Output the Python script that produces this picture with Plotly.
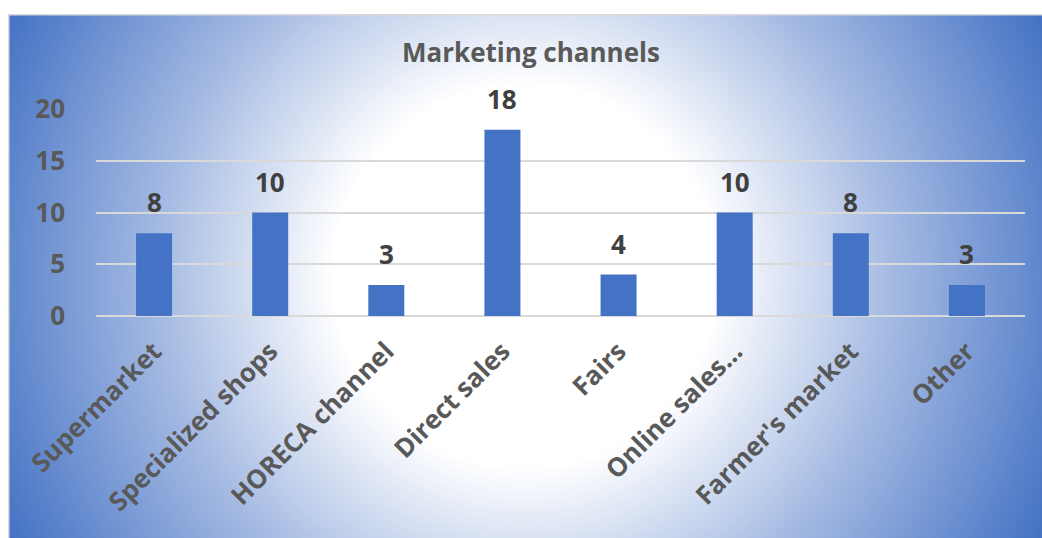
import base64
import plotly.graph_objects as go

# Survey results: number of producers using each marketing channel
channels = [
    "Supermarket",
    "Specialized shops",
    "HORECA channel",
    "Direct sales",
    "Fairs",
    "Online sales…",
    "Farmer's market",
    "Other",
]
counts = [8, 10, 3, 18, 4, 10, 8, 3]
y_ticks = [0, 5, 10, 15, 20]

W, H = 1042, 538
ML, MR, MT, MB = 96, 17, 109, 222
plot_w = W - ML - MR
plot_h = H - MT - MB

# Chart-area background: white centre fading radially to blue at the corners
bg_x0, bg_y0 = 8, 14
bg_w, bg_h = W - bg_x0 + 2, H - bg_y0 + 2
cx, cy = 525, 276
svg = f"""<svg xmlns='http://www.w3.org/2000/svg' width='{bg_w}' height='{bg_h}' viewBox='0 0 {bg_w} {bg_h}' preserveAspectRatio='none'>
<defs><radialGradient id='g' gradientUnits='userSpaceOnUse' cx='{cx - bg_x0}' cy='{cy - bg_y0}' r='578'>
<stop offset='0' stop-color='#ffffff'/>
<stop offset='0.33' stop-color='#ffffff'/>
<stop offset='0.64' stop-color='#a3b9e2'/>
<stop offset='1' stop-color='#4472c4'/>
</radialGradient></defs>
<rect x='0.75' y='0.75' width='{bg_w + 4}' height='{bg_h + 4}' fill='url(#g)' stroke='#d9d9d9' stroke-width='1.5'/>
</svg>"""
svg_uri = "data:image/svg+xml;base64," + base64.b64encode(svg.encode()).decode()

label_font = dict(family="Open Sans", size=26, color="#595959", weight="bold")

fig = go.Figure(
    go.Bar(
        x=channels,
        y=counts,
        marker=dict(color="#4472c4", line=dict(width=0)),
        width=0.31,
    )
)

# Value labels sitting above each bar
for ch, v in zip(channels, counts):
    fig.add_annotation(
        x=ch,
        y=v,
        text=f"<b>{v}</b>",
        showarrow=False,
        yanchor="bottom",
        yshift=11,
        font=dict(family="Open Sans", size=26, color="#404040"),
    )

fig.add_layout_image(
    source=svg_uri,
    xref="paper",
    yref="paper",
    x=(bg_x0 - ML) / plot_w,
    y=(H - MB - bg_y0) / plot_h,
    sizex=bg_w / plot_w,
    sizey=bg_h / plot_h,
    xanchor="left",
    yanchor="top",
    sizing="stretch",
    layer="below",
)

fig.update_layout(
    width=W,
    height=H,
    margin=dict(l=ML, r=MR, t=MT, b=MB, pad=0),
    paper_bgcolor="white",
    plot_bgcolor="rgba(0,0,0,0)",
    showlegend=False,
    title=dict(
        text="<b>Marketing channels</b>",
        x=531 / W,
        xanchor="center",
        y=1 - 53 / H,
        yanchor="middle",
        font=dict(family="Open Sans", size=26, color="#595959"),
    ),
    xaxis=dict(
        tickangle=-45,
        tickfont=label_font,
        showgrid=False,
        showline=False,
        zeroline=False,
        ticks="",
        ticklabelstandoff=14,
    ),
    yaxis=dict(
        range=[0, 20],
        tickvals=y_ticks,
        tickfont=label_font,
        showgrid=True,
        gridcolor="#d9d9d9",
        gridwidth=1.5,
        zeroline=True,
        zerolinecolor="#d9d9d9",
        zerolinewidth=1.5,
        showline=False,
        ticks="",
        ticklabelstandoff=30,
    ),
)

fig.write_html("out.html")
